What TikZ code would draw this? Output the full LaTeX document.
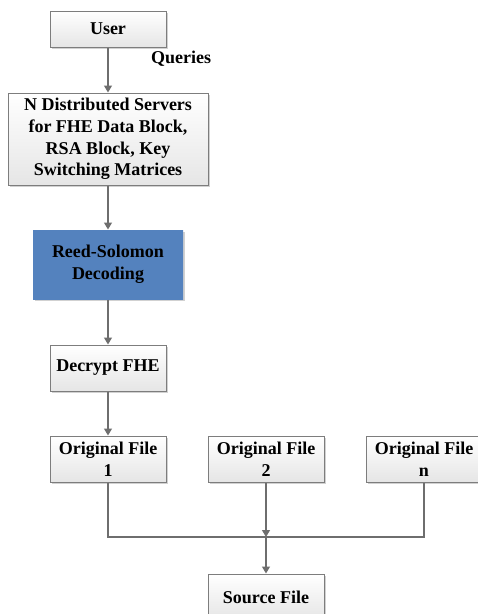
\documentclass[tikz,border=0pt]{standalone}
\usepackage{fontspec}
\setmainfont{Liberation Serif}
\usetikzlibrary{arrows.meta,shadows}
\definecolor{linegray}{RGB}{110,110,110}
\definecolor{boxborder}{RGB}{125,125,125}
\definecolor{rsblue}{RGB}{84,130,190}
\tikzset{
  txt/.style={font=\fontsize{18}{21.7}\selectfont\bfseries},
  box/.style={txt, draw=boxborder, line width=1pt, top color=white, bottom color=black!10,
    minimum width=116pt, minimum height=46pt, inner sep=2pt, align=center,
    drop shadow={shadow xshift=1.5pt, shadow yshift=-1.5pt, fill=black, opacity=0.18}},
  conn/.style={draw=linegray, line width=1.3pt},
  arr/.style={conn, -{Triangle[length=7pt,width=8pt]}}
}
\begin{document}
\begin{tikzpicture}[x=1pt,y=-1pt]
\useasboundingbox (0,0) rectangle (478,614);
\node[box, minimum height=36pt] (user) at (108,29) {User};
\node[txt] (q) at (181,59) {Queries};
\node[box, minimum width=200pt, minimum height=92pt] (srv) at (108,139)
  {N Distributed Servers\\for FHE Data Block,\\RSA Block, Key\\Switching Matrices};
\node[box, draw=none, top color=rsblue, bottom color=rsblue, fill=rsblue,
  minimum width=150pt, minimum height=69pt] (rs) at (108,264.5) {Reed-Solomon\\Decoding};
\node[box] (dec) at (108,368) {Decrypt FHE};
\node[box] (f1) at (108,459) {Original File\\1};
\node[box] (f2) at (266,459) {Original File\\2};
\node[box] (fn) at (424,459) {Original File\\n};
\node[box] (src) at (266,597) {Source File};
\coordinate (j) at (266,537);
\draw[arr] (user.south) -- (srv.north);
\draw[arr] (srv.south) -- (rs.north);
\draw[arr] (rs.south) -- (dec.north);
\draw[arr] (dec.south) -- (f1.north);
\draw[conn] (f1.south) |- (j);
\draw[conn] (fn.south) |- (j);
\draw[arr] (f2.south) -- (j);
\draw[arr] (j) -- (src.north);
\end{tikzpicture}
\end{document}
